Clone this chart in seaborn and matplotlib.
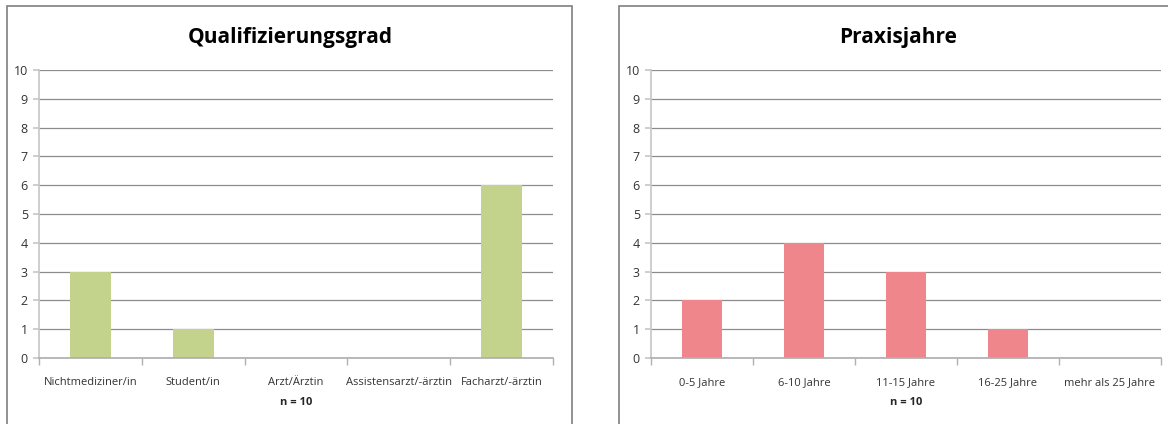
import matplotlib
matplotlib.use('Agg')
import matplotlib.pyplot as plt
from matplotlib.patches import Rectangle
import pandas as pd
import seaborn as sns

# ---------------------------
# Data
# ---------------------------
quali_labels = ["Nichtmediziner/in", "Student/in", "Arzt/Ärztin",
                "Assistensarzt/-ärztin", "Facharzt/-ärztin"]
quali_counts = [3, 1, 0, 0, 6]

praxis_labels = ["0-5 Jahre", "6-10 Jahre", "11-15 Jahre",
                 "16-25 Jahre", "mehr als 25 Jahre"]
praxis_counts = [2, 4, 3, 1, 0]

n_note = "n = 10"

# ---------------------------
# Style
# ---------------------------
sns.set_theme(style="white")
plt.rcParams['font.family'] = ['Open Sans', 'DejaVu Sans']

W, H = 1168, 424
fig = plt.figure(figsize=(W / 100, H / 100), dpi=100)


def px_axes(x0, x1, ytop, ybot):
    return fig.add_axes([x0 / W, (H - ybot) / H, (x1 - x0) / W, (ybot - ytop) / H])


def draw_panel(ax, labels, counts, color, title, frame, title_x):
    df = pd.DataFrame({"cat": labels, "val": counts})
    sns.barplot(data=df, x="cat", y="val", color=color, width=0.4,
                saturation=1, ax=ax, zorder=3)
    ax.set_ylim(0, 10)
    ax.set_xlim(-0.5, len(labels) - 0.5)
    ax.set_yticks(range(0, 11))
    ax.yaxis.grid(True, color="#8c8c8c", linewidth=0.9)
    ax.set_axisbelow(True)
    ax.set_xlabel(n_note, fontsize=8, fontweight="bold", labelpad=6)
    ax.set_ylabel("")
    for s in ["top", "right"]:
        ax.spines[s].set_visible(False)
    ax.spines["left"].set_color("#c8c8c8")
    ax.spines["bottom"].set_color("#b0b0b0")
    ax.spines["bottom"].set_zorder(4)
    ax.tick_params(axis="y", left=True, length=4, color="#c8c8c8",
                   labelsize=9, labelcolor="#333333", pad=4)
    ax.tick_params(axis="x", bottom=False, labelsize=8, labelcolor="#333333", pad=8)
    ax.set_xticks(range(len(labels)), minor=False)
    ax.set_xticks([i - 0.5 for i in range(len(labels) + 1)], minor=True)
    ax.tick_params(axis="x", which="minor", bottom=True, length=5,
                   color="#b0b0b0", direction="out")
    for b in ax.patches:
        b.set_edgecolor("none")
    # chart frame and title (figure coords)
    fx0, fy0, fx1 = frame
    fig.patches.append(Rectangle((fx0 / W, -0.02), (fx1 - fx0) / W, (H - fy0) / H + 0.02,
                                 transform=fig.transFigure, fill=False,
                                 edgecolor="#7f7f7f", linewidth=1.2, zorder=0))
    fig.text(title_x / W, 1 - 37 / H, title, ha="center", va="center",
             fontsize=15, fontweight="bold", color="black")


ax1 = px_axes(39, 553, 70, 358)
draw_panel(ax1, quali_labels, quali_counts, "#c4d38b", "Qualifizierungsgrad",
           (7, 6, 572), 290)

ax2 = px_axes(651, 1161, 70, 358)
draw_panel(ax2, praxis_labels, praxis_counts, "#ee868b", "Praxisjahre",
           (619, 6, 1175), 898)

fig.savefig("out.png", dpi=100, facecolor="white")
plt.close(fig)
